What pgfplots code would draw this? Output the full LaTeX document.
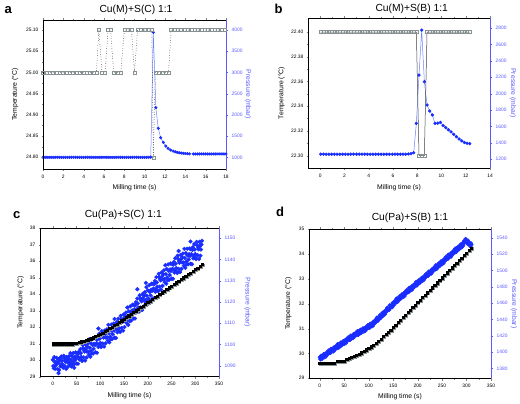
\documentclass[border=0pt]{standalone}
\usepackage{fontspec}
\setmainfont{Liberation Sans}
\usepackage{pgfplots}
\pgfplotsset{compat=1.18}
\definecolor{pblue}{RGB}{25,45,255}
\definecolor{plblue}{RGB}{110,130,255}
\definecolor{axblue}{RGB}{90,90,255}
\definecolor{tgrey}{RGB}{135,145,145}
\newcommand{\lblfont}{\fontsize{6.8}{8}\selectfont}
\pgfplotsset{
  common/.style={
    scale only axis,
    tick label style={font=\fontsize{4.9}{5}\selectfont},
    label style={font=\lblfont},
    tick align=outside,
    major tick length=2.2pt, minor tick length=1.3pt,
    /pgf/number format/assume math mode=true,
    /pgf/number format/1000 sep={},
    scaled ticks=false,
    axis line style={line width=0.6pt,-},
  },
  taxis/.style={common, axis x line=box, axis y line=left, axis line style={-}, ytick pos=left},
  paxis/.style={common, axis y line*=right, axis x line=none, axis line style={-,axblue},
    tick style={axblue}, y tick label style={text=axblue}, ylabel style={text=axblue}},
}
\begin{document}
\begin{tikzpicture}[x=1pt,y=1pt]
\useasboundingbox (0,0) rectangle (520,-404);
% ================= panel a =================
\begin{axis}[paxis, at={(43pt,-169pt)}, anchor=south west, width=183pt, height=149pt,
  xmin=0, xmax=18, ymin=725, ymax=4236, ytick={1000,1500,2000,2500,3000,3500,4000}, minor y tick num=1,
  ylabel={Pressure (mbar)}, ylabel style={font=\lblfont, at={(axis description cs:1.120,0.5)}, anchor=center, rotate=180}]
\addplot[plblue, line width=0.5pt, mark=*, mark size=1.3pt, mark options={pblue, draw=pblue}] coordinates {
(0,1000)(0.2,1000)(0.4,1000)(0.6,1000)(0.8,1000)(1,1000)(1.2,1000)(1.4,1000)(1.6,1000)(1.8,1000)
(2,1000)(2.2,1000)(2.4,1000)(2.6,1000)(2.8,1000)(3,1000)(3.2,1000)(3.4,1000)(3.6,1000)(3.8,1000)
(4,1000)(4.2,1000)(4.4,1000)(4.6,1000)(4.8,1000)(5,1000)(5.2,1000)(5.4,1000)(5.6,1000)(5.8,1000)
(6,1000)(6.2,1000)(6.4,1000)(6.6,1000)(6.8,1000)(7,1000)(7.2,1000)(7.4,1000)(7.6,1000)(7.8,1000)
(8,1000)(8.2,1000)(8.4,1000)(8.6,1000)(8.8,1000)(9,1000)(9.2,1000)(9.4,1000)(9.6,1000)(9.8,1000)
(10,1000)(10.2,1000)(10.4,1000)(10.6,1005)
(10.85,3945)(11.1,2170)(11.34,1683)(11.57,1462)(11.83,1353)(12.08,1266)(12.3,1211)(12.55,1172)(12.8,1148)
(13,1130)(13.2,1118)(13.4,1108)(13.6,1100)(13.8,1094)(14,1090)(14.2,1086)(14.4,1083)
(14.8,1080)(15,1080)(15.2,1080)(15.4,1080)(15.6,1080)(15.8,1080)(16,1080)(16.2,1080)(16.4,1080)(16.6,1080)
(16.8,1080)(17,1080)(17.2,1080)(17.4,1080)(17.6,1080)(17.8,1080)(18,1080)};
\end{axis}
\begin{axis}[taxis, at={(43pt,-169pt)}, anchor=south west, width=183pt, height=149pt,
  xmin=0, xmax=18, xtick={0,2,...,18}, minor x tick num=1,
  ymin=24.7724, ymax=25.1236, ytick={24.80,24.85,24.90,24.95,25.00,25.05,25.10}, minor y tick num=1,
  yticklabel style={/pgf/number format/.cd, fixed, fixed zerofill, precision=2},
  xlabel={Milling time (s)}, xlabel style={font=\lblfont, at={(axis description cs:0.5,-0.1275)}, anchor=center},
  ylabel={Temperature (°C)}, ylabel style={font=\lblfont, at={(axis description cs:-0.153,0.5)}, anchor=center}]
\addplot[black, dotted, line width=0.5pt, mark=square, mark size=1.5pt, mark options={solid, draw=tgrey, line width=0.4pt}] coordinates {
(0,25)(0.33,25)(0.66,25)(0.99,25)(1.32,25)(1.65,25)(1.98,25)(2.31,25)(2.64,25)(2.97,25)(3.3,25)(3.63,25)(3.96,25)(4.29,25)(4.62,25)(4.95,25)(5.25,25)
(5.5,25.1)(5.8,25)(6.1,25)(6.4,25.1)(6.65,25.1)(6.95,25)(7.3,25)(7.65,25)(8,25.1)(8.35,25.1)(8.7,25.1)(9,25)
(9.3,25.1)(9.65,25.1)(10,25.1)(10.35,25.1)(10.7,25.1)(10.85,24.8)
(11.05,25)(11.4,25)(11.75,25)(12.1,25)(12.35,25)
(12.6,25.1)(12.93,25.1)(13.26,25.1)(13.59,25.1)(13.92,25.1)(14.25,25.1)(14.58,25.1)(14.91,25.1)(15.24,25.1)
(15.57,25.1)(15.9,25.1)(16.23,25.1)(16.56,25.1)(16.89,25.1)(17.22,25.1)(17.55,25.1)(17.88,25.1)};
\end{axis}
% ================= panel b =================
\begin{axis}[paxis, at={(308pt,-168pt)}, anchor=south west, width=182pt, height=150pt,
  xmin=-1, xmax=14, ymin=1094, ymax=2922, ytick={1200,1400,...,2800}, minor y tick num=1,
  ylabel={Pressure (mbar)}, ylabel style={font=\lblfont, at={(axis description cs:1.126,0.5)}, anchor=center, rotate=180}]
\addplot[plblue, line width=0.5pt, mark=*, mark size=1.4pt, mark options={pblue, draw=pblue}] coordinates {
(0.05,1262)(0.275,1262)(0.5,1262)(0.725,1262)(0.95,1262)(1.175,1262)(1.4,1262)(1.625,1262)(1.85,1262)(2.075,1262)(2.3,1262)(2.525,1262)(2.75,1262)
(3,1262)(3.225,1262)(3.45,1262)(3.675,1262)(3.9,1262)(4.125,1262)(4.35,1262)(4.575,1262)(4.8,1262)(5.025,1262)(5.25,1262)(5.475,1262)(5.7,1262)
(5.95,1262)(6.17,1262)(6.39,1262)(6.61,1262)(6.83,1262)(7.05,1262)(7.27,1265)(7.49,1268)(7.71,1280)(7.93,1638)
(8.15,2227)(8.37,2775)(8.59,2146)(8.81,1862)(9.03,1789)(9.25,1740)(9.47,1638)(9.69,1640)(9.91,1650)
(10.13,1612)(10.35,1585)(10.57,1560)(10.79,1535)(11.01,1505)(11.23,1475)(11.45,1448)(11.67,1425)(11.89,1405)(12.11,1395)(12.33,1390)};
\end{axis}
\begin{axis}[taxis, at={(308pt,-168pt)}, anchor=south west, width=182pt, height=150pt,
  xmin=-1, xmax=14, xtick={0,2,...,14}, minor x tick num=1,
  ymin=22.290, ymax=22.4114, ytick={22.30,22.32,22.34,22.36,22.38,22.40}, minor y tick num=1,
  yticklabel style={/pgf/number format/.cd, fixed, fixed zerofill, precision=2},
  xlabel={Milling time (s)}, xlabel style={font=\lblfont, at={(axis description cs:0.5,-0.131)}, anchor=center},
  ylabel={Temperature (°C)}, ylabel style={font=\lblfont, at={(axis description cs:-0.1445,0.5)}, anchor=center}]
\addplot[black!75, line width=0.5pt, mark=square, mark size=1.5pt, mark options={draw=tgrey, line width=0.4pt}] coordinates {
(0.05,22.4)(0.275,22.4)(0.5,22.4)(0.725,22.4)(0.95,22.4)(1.175,22.4)(1.4,22.4)(1.625,22.4)(1.85,22.4)(2.075,22.4)(2.3,22.4)(2.525,22.4)(2.75,22.4)
(3,22.4)(3.225,22.4)(3.45,22.4)(3.675,22.4)(3.9,22.4)(4.125,22.4)(4.35,22.4)(4.575,22.4)(4.8,22.4)(5.025,22.4)(5.25,22.4)(5.475,22.4)(5.7,22.4)
(5.95,22.4)(6.17,22.4)(6.39,22.4)(6.61,22.4)(6.83,22.4)(7.05,22.4)(7.27,22.4)(7.49,22.4)(7.71,22.4)(7.93,22.4)
(8.15,22.3)(8.37,22.3)(8.59,22.3)(8.81,22.4)(9.03,22.4)(9.25,22.4)(9.47,22.4)(9.69,22.4)(9.91,22.4)
(10.13,22.4)(10.35,22.4)(10.57,22.4)(10.79,22.4)(11.01,22.4)(11.23,22.4)(11.45,22.4)(11.67,22.4)(11.89,22.4)(12.11,22.4)(12.33,22.4)};
\end{axis}
% ================= panel c =================
\begin{axis}[paxis, at={(40pt,-376.7pt)}, anchor=south west, width=179pt, height=148.4pt,
  xmin=-27, xmax=350, ymin=1084.8, ymax=1154.7, ytick={1090,1100,...,1150}, minor y tick num=1,
  ylabel={Pressure (mbar)}, ylabel style={font=\lblfont, at={(axis description cs:1.158,0.5)}, anchor=center, rotate=180}]
\addplot[only marks, mark=*, mark size=1.9pt, pblue] coordinates {
(0,1092.8)(2,1088.8)(4,1091.7)(6,1090.1)(8,1093.7)(10,1088.4)(12,1091.4)(14,1092.6)(16,1089.7)(18,1094.3)
(20,1090.7)(22,1089.0)(24,1093.4)(26,1092.3)(28,1088.5)(30,1092.6)(32,1091.4)(34,1094.4)(36,1090.3)(38,1092.8)
(40,1094.5)(42,1090.7)(44,1093.7)(46,1092.4)(48,1096.2)(50,1091.0)(52,1094.3)(54,1095.7)(56,1092.9)(58,1097.8)
(60,1094.2)(62,1092.2)(64,1098.3)(66,1097.2)(68,1092.4)(70,1098.0)(72,1096.6)(74,1100.4)(76,1095.1)(78,1098.4)
(80,1100.6)(82,1095.7)(84,1099.7)(86,1097.9)(88,1103.0)(90,1096.3)(92,1100.5)(94,1102.3)(96,1098.8)(98,1105.1)
(100,1100.7)(102,1098.8)(104,1104.8)(106,1103.8)(108,1099.0)(110,1104.7)(112,1103.2)(114,1107.1)(116,1101.8)(118,1105.2)
(120,1107.3)(122,1102.5)(124,1106.5)(126,1104.8)(128,1109.8)(130,1103.2)(132,1107.4)(134,1109.3)(136,1105.7)(138,1112.1)
(140,1107.7)(142,1105.9)(144,1112.1)(146,1111.2)(148,1106.5)(150,1112.3)(152,1111.0)(154,1115.0)(156,1109.9)(158,1113.4)
(160,1115.6)(162,1110.9)(164,1115.1)(166,1113.5)(168,1118.7)(170,1112.2)(172,1116.5)(174,1118.5)(176,1115.1)(178,1121.6)
(180,1117.4)(182,1115.5)(184,1121.7)(186,1120.8)(188,1116.2)(190,1122.0)(192,1120.7)(194,1124.6)(196,1119.5)(198,1123.0)
(200,1125.5)(202,1120.4)(204,1124.8)(206,1123.1)(208,1128.6)(210,1121.6)(212,1126.3)(214,1128.5)(216,1124.8)(218,1131.7)
(220,1127.2)(222,1125.1)(224,1131.8)(226,1130.8)(228,1125.8)(230,1132.0)(232,1130.6)(234,1134.9)(236,1129.3)(238,1133.1)
(240,1135.5)(242,1130.3)(244,1134.6)(246,1132.7)(248,1138.1)(250,1131.0)(252,1135.6)(254,1137.6)(256,1133.8)(258,1140.6)
(260,1136.0)(262,1133.7)(264,1140.3)(266,1139.2)(268,1134.1)(270,1140.1)(272,1138.6)(274,1142.8)(276,1137.1)(278,1140.7)
(280,1143.0)(282,1137.7)(284,1141.9)(286,1140.0)(288,1145.2)(290,1138.0)(292,1142.5)(294,1144.5)(296,1140.6)(298,1147.3)
(300,1142.6)(302,1140.2)(304,1146.7)(306,1145.5)(308,1140.3)(310,1146.3)(312,1144.7)(314,1148.8)
(12,1086.5)(45,1089)(96,1107.5)(130,1112)(178,1126)(196,1129)(265,1144)(290,1148.5)};
\addplot[only marks, mark=*, mark size=1.9pt, pblue] coordinates {
(1,1089.8)(3,1094.0)(5,1088.5)(7,1091.8)(9,1091.1)(11,1093.1)(13,1087.9)(15,1093.5)(17,1090.4)(19,1092.3)
(21,1089.4)(23,1094.6)(25,1089.9)(27,1091.8)(29,1094.1)(31,1089.3)(33,1093.2)(35,1091.4)(37,1095.9)(39,1089.6)
(41,1091.6)(43,1095.9)(45,1090.7)(47,1094.2)(49,1093.6)(51,1095.9)(53,1090.9)(55,1096.6)(57,1093.8)(59,1095.9)
(61,1092.6)(63,1099.7)(65,1093.9)(67,1096.6)(69,1099.9)(71,1093.8)(73,1098.9)(75,1096.6)(77,1102.5)(79,1094.2)
(81,1096.9)(83,1102.6)(85,1095.7)(87,1100.3)(89,1099.7)(91,1102.6)(93,1096.1)(95,1103.6)(97,1099.9)(99,1102.7)
(101,1099.1)(103,1106.3)(105,1100.4)(107,1103.2)(109,1106.5)(111,1100.5)(113,1105.5)(115,1103.3)(117,1109.2)(119,1101.0)
(121,1103.6)(123,1109.4)(125,1102.5)(127,1107.2)(129,1106.5)(131,1109.5)(133,1103.0)(135,1110.6)(137,1106.8)(139,1109.7)
(141,1106.2)(143,1113.5)(145,1107.8)(147,1110.6)(149,1114.1)(151,1108.2)(153,1113.4)(155,1111.3)(157,1117.4)(159,1109.2)
(161,1112.0)(163,1117.9)(165,1111.2)(167,1116.0)(169,1115.5)(171,1118.5)(173,1112.2)(175,1119.9)(177,1116.3)(179,1119.3)
(181,1115.8)(183,1123.1)(185,1117.4)(187,1120.3)(189,1123.8)(191,1117.9)(193,1123.0)(195,1120.9)(197,1127.0)(199,1118.9)
(201,1121.6)(203,1127.9)(205,1120.7)(207,1125.8)(209,1125.2)(211,1128.5)(213,1121.7)(215,1129.9)(217,1126.0)(219,1129.2)
(221,1125.5)(223,1133.3)(225,1127.2)(227,1130.2)(229,1133.9)(231,1127.6)(233,1133.1)(235,1130.8)(237,1137.3)(239,1128.6)
(241,1131.5)(243,1137.7)(245,1130.4)(247,1135.3)(249,1134.6)(251,1137.8)(253,1130.9)(255,1138.9)(257,1134.9)(259,1138.0)
(261,1134.2)(263,1141.8)(265,1135.6)(267,1138.5)(269,1142.1)(271,1135.6)(273,1141.0)(275,1138.6)(277,1145.0)(279,1136.1)
(281,1139.0)(283,1145.1)(285,1137.7)(287,1142.5)(289,1141.7)(291,1144.8)(293,1137.8)(295,1145.8)(297,1141.7)(299,1144.7)
(301,1140.7)(303,1148.3)(305,1142.0)(307,1144.8)(309,1148.3)(311,1141.8)(313,1147.1)};
\end{axis}
\begin{axis}[taxis, at={(40pt,-376.7pt)}, anchor=south west, width=179pt, height=148.4pt,
  xmin=-27, xmax=350, xtick={0,50,...,350}, minor x tick num=1,
  ymin=29, ymax=38, ytick={29,30,...,38},
  xlabel={Milling time (s)}, xlabel style={font=\lblfont, at={(axis description cs:0.5,-0.130)}, anchor=center},
  ylabel={Temperature (°C)}, ylabel style={font=\lblfont, at={(axis description cs:-0.108,0.5)}, anchor=center}]
\addplot[only marks, mark=square, mark size=1.15pt, tgrey, mark options={xshift=0.9pt, yshift=-0.9pt, line width=0.45pt}] coordinates {
(0,31)(5,31)(10,31)(15,31)(20,31)(25,31)(30,31)(35,31)(40,31)(45,31.02)(50,31.05)(55,31.08)(60,31.12)(65,31.16)(70,31.2)(75,31.25)
(80,31.31)(85,31.37)(90,31.44)(95,31.51)(100,31.58)(105,31.66)(110,31.74)(115,31.83)(120,31.92)(125,32.01)(130,32.1)(135,32.2)
(140,32.3)(145,32.4)(150,32.5)(155,32.6)(160,32.7)(165,32.8)(170,32.9)(175,33)(180,33.1)(185,33.2)(190,33.3)(195,33.4)
(200,33.5)(205,33.6)(210,33.7)(215,33.8)(220,33.9)(225,34)(230,34.1)(235,34.2)(240,34.3)(245,34.4)(250,34.5)(255,34.6)
(260,34.7)(265,34.8)(270,34.9)(275,35)(280,35.1)(285,35.2)(290,35.3)(295,35.4)(300,35.5)(305,35.6)(310,35.7)(315,35.8)};
\addplot[only marks, mark=square*, mark size=1.1pt, black] coordinates {
(0,31)(5,31)(10,31)(15,31)(20,31)(25,31)(30,31)(35,31)(40,31)(45,31.02)(50,31.05)(55,31.08)(60,31.12)(65,31.16)(70,31.2)(75,31.25)
(80,31.31)(85,31.37)(90,31.44)(95,31.51)(100,31.58)(105,31.66)(110,31.74)(115,31.83)(120,31.92)(125,32.01)(130,32.1)(135,32.2)
(140,32.3)(145,32.4)(150,32.5)(155,32.6)(160,32.7)(165,32.8)(170,32.9)(175,33)(180,33.1)(185,33.2)(190,33.3)(195,33.4)
(200,33.5)(205,33.6)(210,33.7)(215,33.8)(220,33.9)(225,34)(230,34.1)(235,34.2)(240,34.3)(245,34.4)(250,34.5)(255,34.6)
(260,34.7)(265,34.8)(270,34.9)(275,35)(280,35.1)(285,35.2)(290,35.3)(295,35.4)(300,35.5)(305,35.6)(310,35.7)(315,35.8)};
\end{axis}
% ================= panel d =================
\begin{axis}[paxis, at={(309pt,-378.3pt)}, anchor=south west, width=182pt, height=149pt,
  xmin=-22, xmax=350, ymin=1367.8, ymax=1550.3, ytick={1380,1400,...,1540}, minor y tick num=1,
  ylabel={Pressure (mbar)}, ylabel style={font=\lblfont, at={(axis description cs:1.126,0.5)}, anchor=center, rotate=180}]
\addplot[only marks, mark=*, mark size=1.9pt, pblue] coordinates {
(0,1393.5)(2,1391.0)(4,1394.0)(6,1393.5)(8,1397.4)(10,1393.6)(12,1396.9)(14,1398.7)(16,1397.1)(18,1401.8)
(20,1399.6)(22,1398.9)(24,1403.4)(26,1403.2)(28,1400.8)(30,1405.0)(32,1404.7)(34,1407.7)(36,1404.9)(38,1407.6)
(40,1409.6)(42,1407.1)(44,1410.1)(46,1409.6)(48,1413.5)(50,1409.8)(52,1413.1)(54,1414.9)(56,1413.3)(58,1417.9)
(60,1415.7)(62,1415.0)(64,1419.5)(66,1419.3)(68,1416.9)(70,1421.1)(72,1420.8)(74,1423.7)(76,1420.8)(78,1423.4)
(80,1425.3)(82,1422.7)(84,1425.6)(86,1425.0)(88,1428.8)(90,1425.0)(92,1428.2)(94,1429.9)(96,1428.2)(98,1432.7)
(100,1430.4)(102,1429.6)(104,1434.0)(106,1433.7)(108,1431.7)(110,1436.2)(112,1436.3)(114,1439.6)(116,1437.2)(118,1440.3)
(120,1442.6)(122,1440.5)(124,1443.8)(126,1443.7)(128,1448.0)(130,1444.5)(132,1448.2)(134,1450.3)(136,1449.1)(138,1454.1)
(140,1452.2)(142,1451.9)(144,1456.7)(146,1456.9)(148,1454.9)(150,1459.4)(152,1459.5)(154,1462.8)(156,1460.4)(158,1463.5)
(160,1465.8)(162,1463.7)(164,1466.9)(166,1466.6)(168,1470.7)(170,1467.1)(172,1470.6)(174,1472.6)(176,1471.2)(178,1476.0)
(180,1474.0)(182,1473.5)(184,1478.2)(186,1478.2)(188,1476.0)(190,1480.4)(192,1480.3)(194,1483.5)(196,1480.9)(198,1483.8)
(200,1486.0)(202,1483.7)(204,1486.9)(206,1486.6)(208,1490.7)(210,1487.1)(212,1490.6)(214,1492.6)(216,1491.2)(218,1496.0)
(220,1494.0)(222,1493.5)(224,1498.2)(226,1498.2)(228,1496.1)(230,1500.5)(232,1500.4)(234,1503.7)(236,1501.1)(238,1504.0)
(240,1506.3)(242,1504.0)(244,1507.2)(246,1506.9)(248,1511.1)(250,1507.5)(252,1511.0)(254,1513.1)(256,1511.7)(258,1516.5)
(260,1514.6)(262,1514.1)(264,1518.8)(266,1518.9)(268,1516.7)(270,1521.1)(272,1521.0)(274,1524.3)(276,1521.7)(278,1524.6)
(280,1526.9)(282,1524.6)(284,1527.8)(286,1527.6)(288,1531.7)(290,1528.1)(292,1532.1)(294,1534.6)(296,1533.7)(298,1538.5)
(300,1535.0)(302,1532.5)(304,1535.2)(306,1533.2)(308,1529.0)(310,1531.4)};
\addplot[only marks, mark=*, mark size=1.9pt, pblue] coordinates {
(1,1391.4)(3,1395.5)(5,1391.9)(7,1395.4)(9,1395.5)(11,1397.9)(13,1394.6)(15,1399.8)(17,1398.1)(19,1400.5)
(21,1398.9)(23,1403.9)(25,1400.9)(27,1403.1)(29,1405.8)(31,1402.7)(33,1406.3)(35,1405.5)(37,1409.8)(39,1405.3)
(41,1407.5)(43,1411.6)(45,1408.0)(47,1411.5)(49,1411.6)(51,1414.1)(53,1410.8)(55,1416.0)(57,1414.3)(59,1416.6)
(61,1415.0)(63,1420.0)(65,1417.0)(67,1419.2)(69,1421.9)(71,1418.8)(73,1422.4)(75,1421.5)(77,1425.7)(79,1421.1)
(81,1423.2)(83,1427.2)(85,1423.5)(87,1426.9)(89,1426.9)(91,1429.3)(93,1425.9)(95,1431.0)(97,1429.2)(99,1431.4)
(101,1429.7)(103,1434.6)(105,1431.5)(107,1433.8)(109,1436.9)(111,1434.1)(113,1438.1)(115,1437.6)(117,1442.3)(119,1438.2)
(121,1440.7)(123,1445.2)(125,1441.9)(127,1445.8)(129,1446.3)(131,1449.0)(133,1446.1)(135,1451.6)(137,1450.3)(139,1453.0)
(141,1451.7)(143,1457.1)(145,1454.4)(147,1457.0)(149,1460.1)(151,1457.3)(153,1461.3)(155,1460.8)(157,1465.5)(159,1461.4)
(161,1463.9)(163,1468.3)(165,1464.9)(167,1468.6)(169,1468.9)(171,1471.5)(173,1468.4)(175,1473.8)(177,1472.3)(179,1474.8)
(181,1473.4)(183,1478.6)(185,1475.8)(187,1478.2)(189,1481.1)(191,1478.2)(193,1482.0)(195,1481.4)(197,1485.9)(199,1481.6)
(201,1484.0)(203,1488.3)(205,1484.9)(207,1488.6)(209,1488.9)(211,1491.5)(213,1488.4)(215,1493.8)(217,1492.3)(219,1494.8)
(221,1493.4)(223,1498.6)(225,1495.8)(227,1498.3)(229,1501.2)(231,1498.3)(233,1502.2)(235,1501.6)(237,1506.1)(239,1501.8)
(241,1504.3)(243,1508.6)(245,1505.2)(247,1509.0)(249,1509.3)(251,1511.9)(253,1508.9)(255,1514.3)(257,1512.8)(259,1515.3)
(261,1514.0)(263,1519.2)(265,1516.4)(267,1518.9)(269,1521.8)(271,1518.9)(273,1522.8)(275,1522.2)(277,1526.7)(279,1522.5)
(281,1524.9)(283,1529.2)(285,1525.9)(287,1529.6)(289,1529.9)(291,1532.7)(293,1530.1)(295,1536.0)(297,1534.8)(299,1536.6)
(301,1533.4)(303,1536.6)(305,1531.8)(307,1532.2)(309,1533.1)};
\end{axis}
\begin{axis}[taxis, at={(309pt,-378.3pt)}, anchor=south west, width=182pt, height=149pt,
  xmin=-22, xmax=350, xtick={0,50,...,350}, minor x tick num=1,
  ymin=29, ymax=35, ytick={29,30,...,35},
  xlabel={Milling time (s)}, xlabel style={font=\lblfont, at={(axis description cs:0.5,-0.123)}, anchor=center},
  ylabel={Temperature (°C)}, ylabel style={font=\lblfont, at={(axis description cs:-0.114,0.5)}, anchor=center}]
\addplot[only marks, mark=square, mark size=1.15pt, tgrey, mark options={xshift=0.9pt, yshift=-0.9pt, line width=0.45pt}] coordinates {
(0,29.6)(5,29.6)(10,29.6)(15,29.6)(20,29.6)(25,29.6)(30,29.6)(35,29.7)(40,29.7)(45,29.7)(50,29.7)(55,29.77)(60,29.81)(65,29.85)
(70,29.89)(75,29.93)(80,29.98)(85,30.03)(90,30.09)(95,30.15)(100,30.21)(105,30.27)(110,30.34)(115,30.42)(120,30.5)(125,30.59)
(130,30.68)(135,30.77)(140,30.86)(145,30.95)(150,31.05)(155,31.15)(160,31.25)(165,31.35)(170,31.45)(175,31.55)(180,31.65)
(185,31.75)(190,31.85)(195,31.95)(200,32.05)(205,32.15)(210,32.25)(215,32.35)(220,32.45)(225,32.55)(230,32.65)(235,32.75)
(240,32.85)(245,32.95)(250,33.05)(255,33.15)(260,33.25)(265,33.35)(270,33.45)(275,33.55)(280,33.65)(285,33.75)(290,33.85)
(295,33.95)(300,34.05)(305,34.15)(310,34.25)};
\addplot[only marks, mark=square*, mark size=1.1pt, black] coordinates {
(0,29.6)(5,29.6)(10,29.6)(15,29.6)(20,29.6)(25,29.6)(30,29.6)(35,29.7)(40,29.7)(45,29.7)(50,29.7)(55,29.77)(60,29.81)(65,29.85)
(70,29.89)(75,29.93)(80,29.98)(85,30.03)(90,30.09)(95,30.15)(100,30.21)(105,30.27)(110,30.34)(115,30.42)(120,30.5)(125,30.59)
(130,30.68)(135,30.77)(140,30.86)(145,30.95)(150,31.05)(155,31.15)(160,31.25)(165,31.35)(170,31.45)(175,31.55)(180,31.65)
(185,31.75)(190,31.85)(195,31.95)(200,32.05)(205,32.15)(210,32.25)(215,32.35)(220,32.45)(225,32.55)(230,32.65)(235,32.75)
(240,32.85)(245,32.95)(250,33.05)(255,33.15)(260,33.25)(265,33.35)(270,33.45)(275,33.55)(280,33.65)(285,33.75)(290,33.85)
(295,33.95)(300,34.05)(305,34.15)(310,34.25)};
\end{axis}
% ================= titles and letters =================
\node[anchor=base west, font=\bfseries\fontsize{13}{13}\selectfont] at (1,-13.5) {a};
\node[anchor=base west, font=\bfseries\fontsize{13}{13}\selectfont] at (271,-13.3) {b};
\node[anchor=base west, font=\bfseries\fontsize{13}{13}\selectfont] at (9.5,-218.3) {c};
\node[anchor=base west, font=\bfseries\fontsize{13}{13}\selectfont] at (272.5,-216.7) {d};
\node[font=\fontsize{10.3}{12}\selectfont] at (136,-10) {Cu(M)+S(C) 1:1};
\node[font=\fontsize{10.3}{12}\selectfont] at (411.7,-8.5) {Cu(M)+S(B) 1:1};
\node[font=\fontsize{10.3}{12}\selectfont] at (123.3,-215) {Cu(Pa)+S(C) 1:1};
\node[font=\fontsize{10.3}{12}\selectfont] at (410,-218) {Cu(Pa)+S(B) 1:1};
\end{tikzpicture}
\end{document}
